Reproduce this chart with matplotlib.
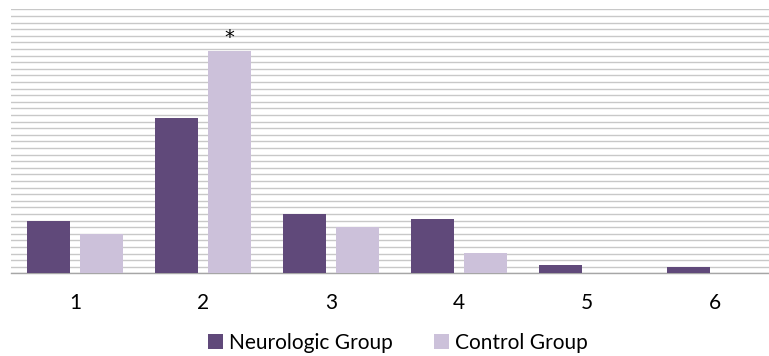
import matplotlib.pyplot as plt
import numpy as np

categories = ['1', '2', '3', '4', '5', '6']
neurologic = [8, 23.5, 9, 8.2, 1.2, 1]
control = [6, 33.7, 7, 3.1, 0, 0]

plt.rcParams['font.family'] = ['Lato', 'DejaVu Sans']

fig = plt.figure(figsize=(7.69, 3.56), dpi=100)
ax = fig.add_axes([11 / 769, 82.7 / 356, 768 / 769, 264 / 356])

x = np.arange(len(categories))
bar_width = 0.33
offset = 0.207

ax.bar(x - offset, neurologic, bar_width, color='#60497a', label='Neurologic Group', zorder=3)
ax.bar(x + offset, control, bar_width, color='#ccc1da', label='Control Group', zorder=3)

# significance marker over control group, category 2
ax.annotate('*', xy=(1 + offset, control[1]), xytext=(0, 3), textcoords='offset points',
            ha='center', va='bottom', fontsize=14, family='DejaVu Sans')

ax.set_xlim(-0.5, 5.5)
ax.set_ylim(0, 40)
ax.set_yticks(np.arange(0, 41, 1))
ax.set_yticklabels([])
ax.set_xticks(x)
ax.set_xticklabels(categories, fontsize=15)
ax.tick_params(axis='both', length=0)
ax.tick_params(axis='x', pad=14)
ax.grid(axis='y', color='#c8c8c8', linewidth=1.0, zorder=0)
for side in ['top', 'right', 'left']:
    ax.spines[side].set_visible(False)
ax.spines['bottom'].set_color('#a6a6a6')
ax.spines['bottom'].set_linewidth(1.0)

fig.legend(loc='center', bbox_to_anchor=(398 / 769, 1 - 343 / 356), ncol=2, frameon=False,
           fontsize=15, handlelength=0.7, handleheight=0.7, handletextpad=0.3, columnspacing=2.0)

fig.savefig('out.png', dpi=100)
